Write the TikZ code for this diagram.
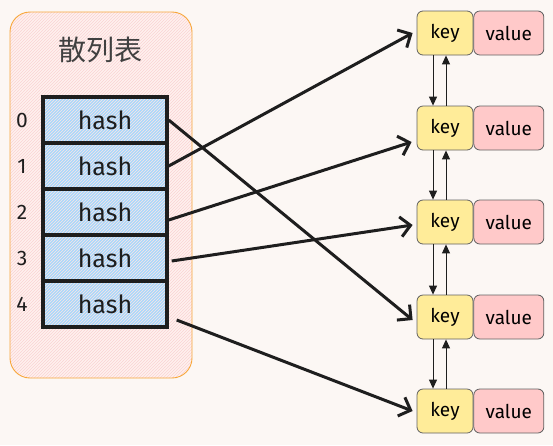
\documentclass[tikz,border=0pt]{standalone}
\usepackage{fontspec}
\setmainfont{Fira Sans}
\newfontfamily\cjk{Noto Sans CJK SC}
\usetikzlibrary{arrows.meta,patterns,positioning}
\definecolor{bgcol}{HTML}{FCF7F4}
\definecolor{boxline}{HTML}{F8A73A}
\definecolor{boxfill}{HTML}{FFF1EF}
\definecolor{hatch}{HTML}{FAD3D3}
\definecolor{cellfill}{HTML}{A9D8FB}
\definecolor{keyfill}{HTML}{FFEC99}
\definecolor{valfill}{HTML}{FFC9C9}
\definecolor{ink}{HTML}{1E1E1E}
\tikzset{
  hatched/.style={path picture={\fill[pattern=north east lines, pattern color=#1]
    (path picture bounding box.south west) rectangle (path picture bounding box.north east);}},
  hashbox/.style={draw=boxline, line width=0.9pt, fill=boxfill, rounded corners=20pt,
    minimum width=182pt, minimum height=366pt, inner sep=0pt, hatched=hatch},
  hashcell/.style={draw=ink, line width=3.4pt, fill=cellfill, minimum width=124pt,
    minimum height=46pt, inner sep=0pt, font=\fontsize{25}{25}\selectfont, text=ink,
    hatched=hatch!60},
  idx/.style={font=\fontsize{21}{21}\selectfont, text=ink},
  keybox/.style={draw=ink!70, line width=0.8pt, fill=keyfill, rounded corners=6pt,
    minimum width=56pt, minimum height=44pt, inner sep=0pt, font=\fontsize{19}{19}\selectfont},
  valbox/.style={draw=ink!70, line width=0.8pt, fill=valfill, rounded corners=6pt,
    minimum width=70pt, minimum height=44pt, inner sep=0pt, font=\fontsize{19}{19}\selectfont},
  link/.style={draw=ink, line width=1pt, -{Triangle[length=9pt,width=8pt]}},
  ptr/.style={draw=ink, line width=3pt, -{Straight Barb[length=10pt,width=20pt,line width=3pt]}}
}
\begin{document}
\begin{tikzpicture}[x=1pt,y=-1pt]
\useasboundingbox[fill=bgcol] (0,0) rectangle (553,445);
% table background
\node[hashbox] (tbl) at (101,195) {};
\node[font=\cjk\fontsize{28}{28}\selectfont, text=ink!85] (title) at (100,50) {散列表};
% buckets
\foreach \i/\y in {0/120,1/166,2/212,3/258,4/304} {
  \node[hashcell] (h\i) at (105,\y) {hash};
  \node[idx] (i\i) at (22,\y) {\i};
}
% entries
\foreach \i/\y in {0/33,1/128,2/222,3/317,4/411} {
  \node[keybox] (k\i) at (445,\y) {key};
  \node[valbox, right=0pt of k\i] (v\i) {value};
}
% double links
\foreach \a/\b in {0/1,1/2,2/3,3/4} {
  \draw[link] ([xshift=-12pt]k\a.south) -- ([xshift=-12pt]k\b.north);
  \draw[link] ([xshift=1pt]k\b.north) -- ([xshift=1pt]k\a.south);
}
% bucket pointers
\draw[ptr] (h0.east) -- ([xshift=-4pt,yshift=-3pt]k3.west);
\draw[ptr] (h1.east) -- ([xshift=-4pt]k0.west);
\draw[ptr] ([yshift=-8pt]h2.east) -- ([xshift=-5pt,yshift=-14pt]k1.west);
\draw[ptr] ([xshift=3pt,yshift=-3pt]h3.east) -- ([xshift=-4pt,yshift=-3pt]k2.west);
\draw[ptr] ([xshift=8pt,yshift=-16pt]h4.east) -- ([xshift=-4pt]k4.west);
\end{tikzpicture}
\end{document}
